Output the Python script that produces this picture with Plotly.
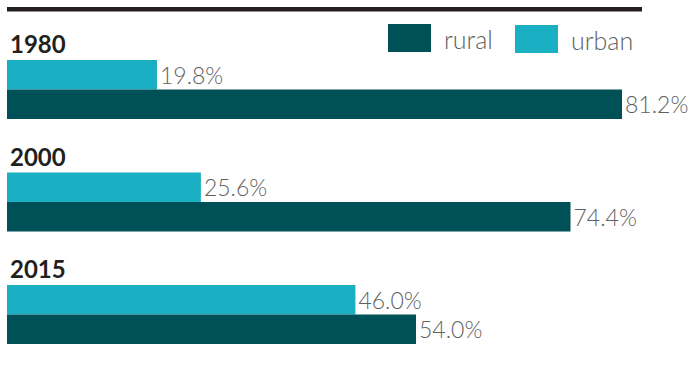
import plotly.graph_objects as go

years = ["1980", "2000", "2015"]
urban = [19.8, 25.6, 46.0]
rural = [81.2, 74.4, 54.0]
series_names = ["rural", "urban"]

W, H = 694, 367
RURAL_COLOR = "#005157"
URBAN_COLOR = "#1aafc2"
LABEL_COLOR = "#5e5f61"
FONT = "Lato"


def px(x):
    return x / W


def py(y):
    return 1 - y / H


fig = go.Figure()

# urban first so it sits on top within each year group
fig.add_trace(go.Bar(
    y=years, x=urban, orientation="h", name="urban",
    marker=dict(color=URBAN_COLOR, line=dict(width=0)),
    texttemplate="%{x:.1f}%", textposition="outside",
    textfont=dict(family=FONT, size=23, color=LABEL_COLOR, weight=300),
    constraintext="none", cliponaxis=False, hoverinfo="skip",
))
fig.add_trace(go.Bar(
    y=years, x=rural, orientation="h", name="rural",
    marker=dict(color=RURAL_COLOR, line=dict(width=0)),
    texttemplate="%{x:.1f}%", textposition="outside",
    textfont=dict(family=FONT, size=23, color=LABEL_COLOR, weight=300),
    constraintext="none", cliponaxis=False, hoverinfo="skip",
))

shapes = [
    # heavy rule across the top
    dict(type="rect", xref="paper", yref="paper",
         x0=px(7), x1=px(642), y0=py(11.5), y1=py(7),
         fillcolor="#231f20", line=dict(width=0), layer="above"),
    # legend swatches
    dict(type="rect", xref="paper", yref="paper",
         x0=px(388), x1=px(431), y0=py(52), y1=py(24),
         fillcolor=RURAL_COLOR, line=dict(width=0)),
    dict(type="rect", xref="paper", yref="paper",
         x0=px(515), x1=px(558), y0=py(53), y1=py(25),
         fillcolor=URBAN_COLOR, line=dict(width=0)),
]

annotations = [
    dict(text=series_names[0], xref="paper", yref="paper", x=px(442), y=py(39),
         xanchor="left", yanchor="middle", showarrow=False,
         font=dict(family=FONT, size=25, color=LABEL_COLOR, weight=300)),
    dict(text=series_names[1], xref="paper", yref="paper", x=px(569), y=py(40),
         xanchor="left", yanchor="middle", showarrow=False,
         font=dict(family=FONT, size=25, color=LABEL_COLOR, weight=300)),
]
# year headings above each group (category axis positions are 0, 1, 2)
for i, yr in enumerate(years):
    annotations.append(dict(
        text="<b>%s</b>" % yr, xref="paper", yref="y", x=px(8), y=i,
        xanchor="left", yanchor="middle", yshift=46, showarrow=False,
        font=dict(family=FONT, size=24, color="#231f20"),
    ))

fig.update_layout(
    width=W, height=H,
    margin=dict(l=0, r=0, t=0, b=0),
    paper_bgcolor="white", plot_bgcolor="white",
    barmode="group", bargap=0.476, bargroupgap=0,
    showlegend=False,
    xaxis=dict(range=[-7 / 7.574, (W - 7) / 7.574], visible=False, fixedrange=True),
    yaxis=dict(type="category", categoryorder="array", categoryarray=years,
               range=[(H - 89.5) / 112.5, -89.5 / 112.5], visible=False, fixedrange=True),
    shapes=shapes,
    annotations=annotations,
)

fig.write_html("out.html", config={"displayModeBar": False})
